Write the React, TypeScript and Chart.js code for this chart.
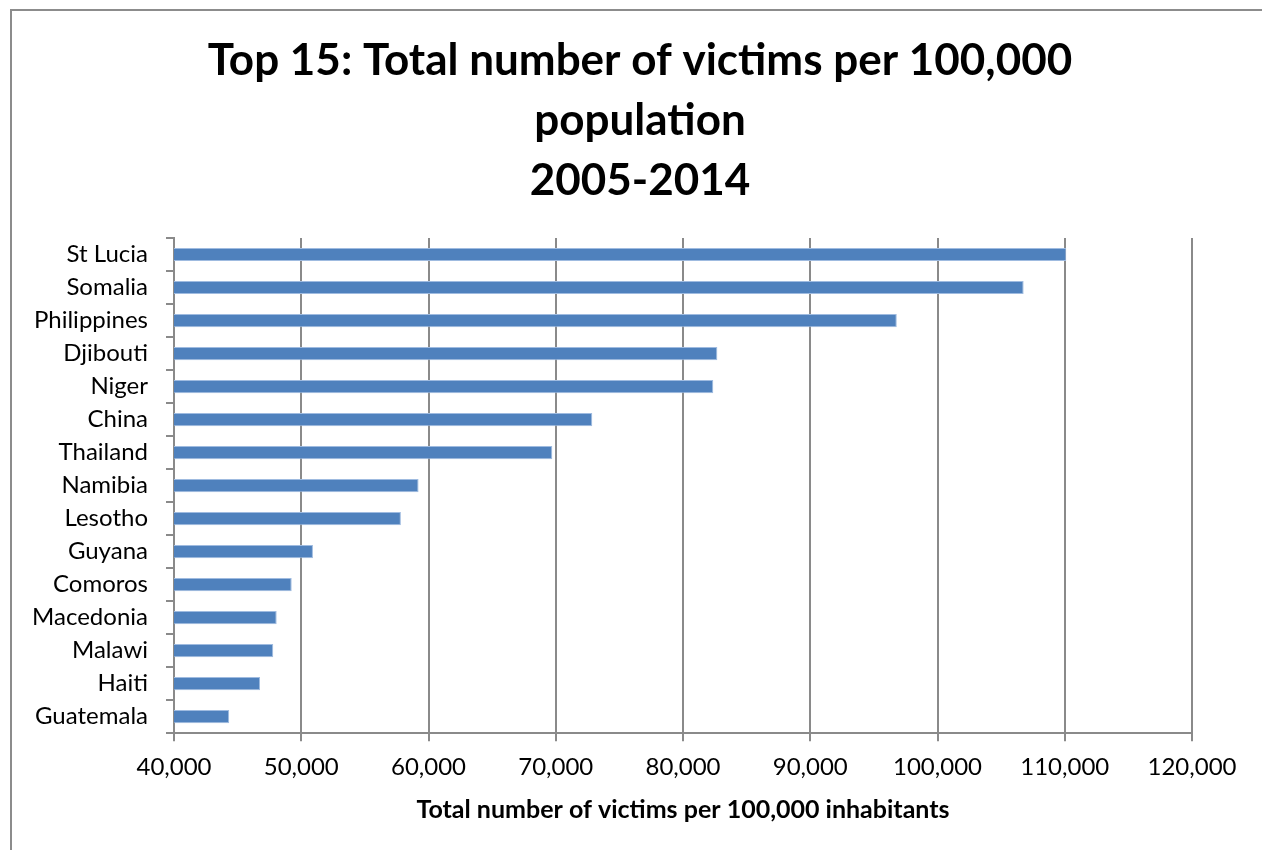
import React, { useEffect, useRef } from "react";
import { Chart, registerables } from "chart.js";

Chart.register(...registerables);

const countries = [
  "St Lucia",
  "Somalia",
  "Philippines",
  "Djibouti",
  "Niger",
  "China",
  "Thailand",
  "Namibia",
  "Lesotho",
  "Guyana",
  "Comoros",
  "Macedonia",
  "Malawi",
  "Haiti",
  "Guatemala",
];

const victimsPer100k = [
  110120, 106770, 96800, 82700, 82380, 72870, 69730, 59220, 57830, 50920,
  49250, 48070, 47800, 46760, 44340,
];

const xTickValues = [40000, 50000, 60000, 70000, 80000, 90000, 100000, 110000, 120000];

const titleLines = [
  "Top 15: Total number of victims per 100,000",
  "population",
  "2005-2014",
];

const xAxisTitle = "Total number of victims per 100,000 inhabitants";

const FONT = "Lato, 'Open Sans', sans-serif";
const GRID = "#8a8a8a";

export default function App() {
  const canvasRef = useRef<HTMLCanvasElement | null>(null);

  useEffect(() => {
    document.body.style.margin = "0";
    const canvas = canvasRef.current;
    if (!canvas) return;
    const chart = new Chart(canvas, {
      type: "bar",
      data: {
        labels: countries,
        datasets: [
          {
            data: victimsPer100k,
            backgroundColor: "#4F81BD",
            borderColor: "#9fbbe0",
            borderWidth: 1,
            barPercentage: 0.8,
            categoryPercentage: 0.5,
          },
        ],
      },
      options: {
        indexAxis: "y",
        animation: false,
        responsive: false,
        maintainAspectRatio: false,
        devicePixelRatio: 1,
        layout: { padding: { left: 18, right: 0, top: 0, bottom: 25 } },
        plugins: {
          legend: { display: false },
          tooltip: { enabled: false },
          title: {
            display: true,
            text: titleLines,
            color: "#000",
            font: { family: FONT, size: 44, weight: "bold", lineHeight: "60px" },
            padding: { top: 31, bottom: 27 },
          },
        },
        scales: {
          x: {
            type: "linear",
            min: xTickValues[0],
            max: xTickValues[xTickValues.length - 1],
            afterBuildTicks: (scale: any) => {
              scale.ticks = xTickValues.map((v) => ({ value: v }));
            },
            afterFit: (scale: any) => {
              scale.paddingRight = 70;
            },
            ticks: {
              color: "#000",
              font: { family: FONT, size: 24 },
              padding: 12,
              maxRotation: 0,
              callback: (v: any) => Number(v).toLocaleString("en-US"),
            },
            grid: {
              color: GRID,
              lineWidth: 2,
              drawTicks: true,
              tickLength: 8,
              tickColor: GRID,
            },
            border: { display: true, color: GRID, width: 2 },
            title: {
              display: true,
              text: xAxisTitle,
              color: "#000",
              font: { family: FONT, size: 25, weight: "bold" },
              padding: { top: 1, bottom: 0 },
            },
          },
          y: {
            type: "category",
            afterFit: (scale: any) => {
              scale.width = 156;
            },
            ticks: {
              color: "#000",
              font: { family: FONT, size: 24 },
              padding: 18,
            },
            grid: {
              offset: true,
              drawOnChartArea: false,
              drawTicks: true,
              tickLength: 8,
              color: GRID,
              lineWidth: 2,
            },
            border: { display: true, color: GRID, width: 2 },
          },
        },
      },
    });
    return () => chart.destroy();
  }, []);

  return (
    <div
      style={{
        position: "fixed",
        left: 0,
        top: 0,
        width: 1262,
        height: 850,
        overflow: "hidden",
        background: "#fff",
      }}
    >
      <div
        style={{
          position: "absolute",
          left: 10,
          top: 9,
          width: 1300,
          height: 900,
          borderLeft: "2px solid #8c8c8c",
          borderTop: "2px solid #8c8c8c",
        }}
      />
      <canvas
        ref={canvasRef}
        width={1262}
        height={850}
        style={{ position: "absolute", left: 0, top: 0, width: 1262, height: 850 }}
      />
    </div>
  );
}
